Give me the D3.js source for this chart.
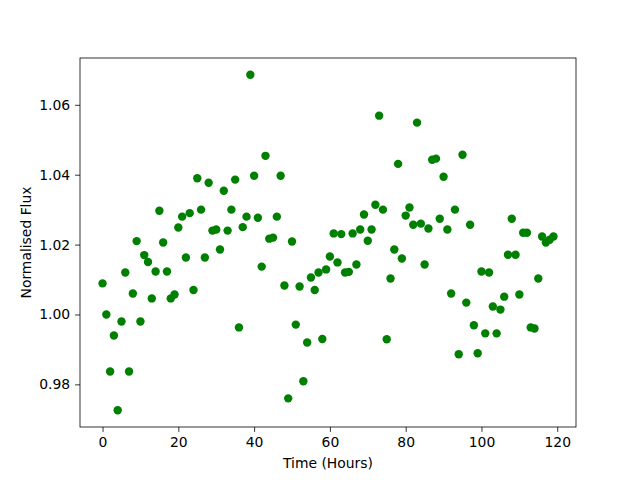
<!DOCTYPE html>
<html><head><meta charset="utf-8">
<script src="https://cdn.jsdelivr.net/npm/d3@7"></script>
<style>body{margin:0;background:#fff}svg{display:block}text{font-family:"DejaVu Sans",sans-serif}</style>
</head><body><svg id="c" width="640" height="480"></svg>
<script>
const times = d3.range(0, 120);
const flux = [
1.0089,1.0000,0.9837,0.9940,0.9726,0.9980,1.0120,0.9837,1.0060,1.0210,
0.9980,1.0170,1.0150,1.0046,1.0123,1.0297,1.0206,1.0123,1.0046,1.0057,
1.0249,1.0280,1.0163,1.0290,1.0070,1.0390,1.0300,1.0163,1.0377,1.0240,
1.0243,1.0186,1.0354,1.0240,1.0300,1.0386,0.9963,1.0250,1.0280,1.0686,
1.0397,1.0277,1.0137,1.0454,1.0217,1.0220,1.0280,1.0397,1.0083,0.9760,
1.0209,0.9971,1.0080,0.9809,0.9920,1.0106,1.0070,1.0120,0.9930,1.0129,
1.0166,1.0232,1.0149,1.0230,1.0120,1.0122,1.0232,1.0143,1.0243,1.0286,
1.0211,1.0243,1.0314,1.0569,1.0300,0.9929,1.0103,1.0186,1.0431,1.0160,
1.0283,1.0306,1.0257,1.0549,1.0260,1.0143,1.0246,1.0443,1.0446,1.0274,
1.0394,1.0243,1.0060,1.0300,0.9886,1.0457,1.0034,1.0257,0.9969,0.9889,
1.0123,0.9946,1.0120,1.0023,0.9946,1.0014,1.0051,1.0171,1.0274,1.0171,
1.0057,1.0234,1.0234,0.9963,0.9960,1.0103,1.0223,1.0206,1.0214,1.0223];
const xTicks = [0,20,40,60,80,100,120];
const yTicks = [0.98,1.00,1.02,1.04,1.06];

const svg = d3.select("#c");
const L=80, R=576, T=58, B=427;
const x = d3.scaleLinear().domain([-5.95,124.95]).range([L,R]);
const y = d3.scaleLinear().domain([0.9678,1.0734]).range([B,T]);

const xa = svg.append("g").attr("transform",`translate(0,${B})`)
  .call(d3.axisBottom(x).tickValues(xTicks).tickFormat(d3.format("d")).tickSizeOuter(0).tickSize(4.9).tickPadding(4.9));
const ya = svg.append("g").attr("transform",`translate(${L},0)`)
  .call(d3.axisLeft(y).tickValues(yTicks).tickFormat(d3.format(".2f")).tickSizeOuter(0).tickSize(4.9).tickPadding(4.9));
[xa,ya].forEach(a=>{
  a.select(".domain").remove();
  a.selectAll("line").attr("stroke","#000").attr("stroke-width",0.8);
  a.selectAll("text").attr("font-size","13.9px").attr("fill","#000").attr("font-family","DejaVu Sans");
});

svg.append("g").selectAll("circle").data(times).join("circle")
  .attr("cx",(d,i)=>x(times[i])).attr("cy",(d,i)=>y(flux[i]))
  .attr("r",4.2).attr("fill","#008000");

svg.append("rect").attr("x",L).attr("y",T).attr("width",R-L).attr("height",B-T)
  .attr("fill","none").attr("stroke","#000").attr("stroke-width",0.8);

svg.append("text").attr("x",(L+R)/2).attr("y",468).attr("text-anchor","middle")
  .attr("font-size","13.9px").text("Time (Hours)");
svg.append("text").attr("transform",`translate(31,${(T+B)/2}) rotate(-90)`).attr("text-anchor","middle")
  .attr("font-size","13.9px").text("Normalised Flux");
</script></body></html>
